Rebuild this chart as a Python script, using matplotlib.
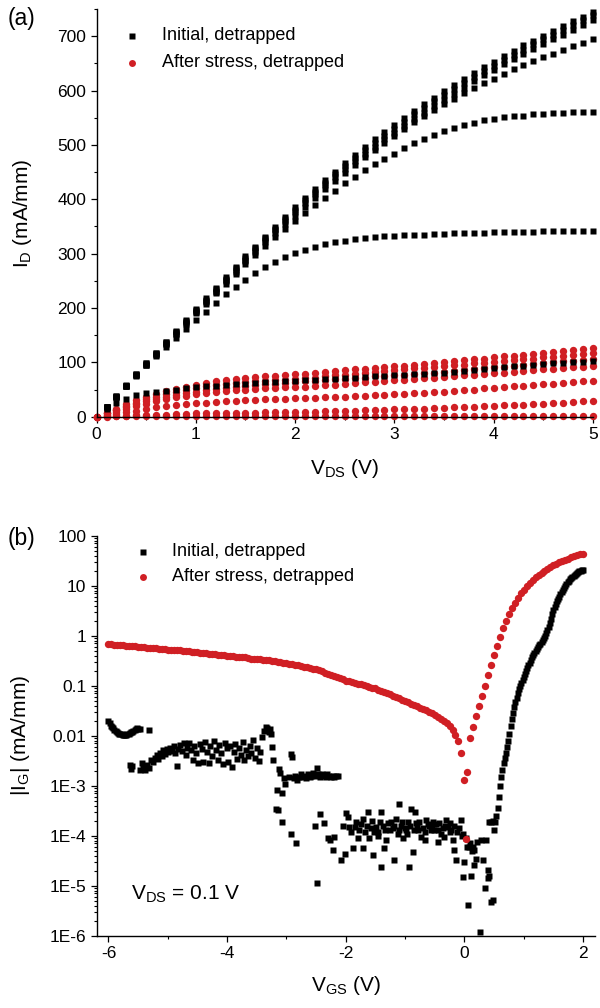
import numpy as np
import matplotlib.pyplot as plt
from matplotlib.ticker import MultipleLocator, FixedLocator, FixedFormatter, LogLocator, NullFormatter

plt.rcParams['font.family'] = ['Liberation Sans', 'DejaVu Sans']
plt.rcParams['mathtext.fontset'] = 'custom'
plt.rcParams['mathtext.rm'] = 'Liberation Sans'
plt.rcParams['mathtext.it'] = 'Liberation Sans:italic'
plt.rcParams['axes.unicode_minus'] = False

RED = '#d01f24'

# ---------------- (a) output characteristics ----------------
vds = [0.1, 0.2, 0.3, 0.4, 0.5, 0.6, 0.7, 0.8, 0.9, 1.0,
       1.1, 1.2, 1.3, 1.4, 1.5, 1.6, 1.7, 1.8, 1.9, 2.0,
       2.1, 2.2, 2.3, 2.4, 2.5, 2.6, 2.7, 2.8, 2.9, 3.0,
       3.1, 3.2, 3.3, 3.4, 3.5, 3.6, 3.7, 3.8, 3.9, 4.0,
       4.1, 4.2, 4.3, 4.4, 4.5, 4.6, 4.7, 4.8, 4.9, 5.0]
vds_red = [0.0] + vds

# initial, detrapped (mA/mm), one list per gate step
id_init_1 = [18, 38, 58, 79, 99, 118, 138, 158, 178, 198, 218, 237, 257, 276, 295, 313, 331, 349, 367, 385,
             402, 419, 435, 451, 466, 481, 496, 510, 524, 537, 550, 563, 575, 587, 599, 610, 621, 632, 643, 653,
             663, 673, 683, 692, 701, 710, 719, 728, 736, 745]
id_init_2 = [18, 37, 57, 78, 98, 117, 137, 156, 176, 196, 215, 234, 254, 273, 292, 310, 328, 346, 363, 381,
             398, 414, 430, 446, 461, 476, 490, 504, 517, 530, 543, 556, 568, 580, 592, 603, 614, 625, 636, 646,
             656, 666, 675, 685, 694, 703, 712, 721, 729, 738]
id_init_3 = [18, 37, 57, 77, 97, 116, 135, 155, 174, 194, 213, 232, 251, 270, 289, 307, 325, 343, 360, 377,
             394, 410, 426, 441, 456, 470, 484, 497, 510, 522, 535, 547, 559, 571, 583, 594, 605, 617, 628, 638,
             648, 658, 667, 677, 686, 695, 703, 712, 720, 729]
id_init_4 = [17, 37, 56, 76, 96, 115, 134, 153, 172, 192, 211, 230, 249, 267, 286, 303, 321, 338, 354, 370,
             386, 402, 418, 433, 448, 463, 477, 491, 504, 517, 530, 542, 553, 564, 575, 585, 595, 604, 613, 622,
             631, 639, 647, 654, 661, 668, 675, 682, 688, 695]
id_init_5 = [17, 36, 56, 75, 95, 114, 133, 152, 171, 190, 208, 227, 245, 262, 280, 297, 314, 330, 345, 360,
             374, 389, 403, 416, 429, 441, 453, 464, 474, 484, 494, 503, 511, 518, 525, 531, 536, 541, 545, 548,
             551, 553, 554, 556, 557, 558, 559, 560, 560, 561]
id_init_6 = [18, 38, 57, 76, 95, 112, 128, 145, 161, 177, 193, 210, 226, 239, 252, 264, 275, 284, 293, 301,
             307, 313, 318, 321, 324, 327, 329, 330, 332, 333, 334, 335, 335, 336, 336, 337, 337, 338, 338, 339,
             339, 340, 340, 340, 341, 341, 341, 342, 342, 342]
id_init_7 = [14, 25, 33, 40, 43, 46, 48, 50, 52, 54, 56, 57, 58, 60, 61, 62, 63, 64, 65, 66,
             67, 68, 69, 70, 71, 72, 73, 74, 75, 76, 77, 78, 79, 80, 81, 83, 84, 86, 88, 90,
             91, 93, 94, 96, 97, 98, 99, 100, 101, 103]

# after stress, detrapped (mA/mm), starting at VDS = 0
id_str_1 = [0, 7, 15, 23, 30, 36, 42, 47, 51, 55, 59, 62, 65, 67, 69, 71, 73, 74, 75, 77, 78,
            79, 81, 82, 84, 85, 87, 88, 90, 91, 93, 94, 96, 97, 99, 101, 102, 104, 106, 107, 109,
            111, 112, 114, 116, 118, 119, 121, 123, 124, 126]
id_str_2 = [0, 6, 13, 20, 26, 32, 37, 42, 46, 50, 53, 56, 58, 60, 62, 63, 65, 66, 67, 68, 69,
            71, 72, 74, 76, 77, 79, 81, 82, 84, 86, 87, 89, 90, 92, 93, 95, 96, 98, 99, 101,
            103, 104, 106, 107, 109, 110, 112, 114, 115, 117]
id_str_3 = [0, 6, 12, 18, 23, 28, 32, 36, 40, 43, 46, 49, 51, 53, 55, 57, 58, 60, 61, 62, 64,
            65, 66, 68, 69, 70, 71, 72, 74, 75, 76, 77, 78, 80, 81, 82, 84, 85, 87, 89, 91,
            92, 94, 96, 97, 99, 100, 102, 103, 105, 106]
id_str_4 = [0, 4, 9, 14, 19, 24, 28, 32, 36, 39, 42, 44, 46, 48, 49, 50, 51, 52, 53, 54, 54,
            55, 57, 58, 59, 60, 62, 63, 64, 65, 67, 68, 69, 71, 72, 73, 75, 76, 77, 79, 80,
            81, 83, 84, 85, 87, 88, 89, 91, 92, 94]
id_str_5 = [0, 2, 5, 8, 11, 14, 17, 19, 21, 23, 25, 26, 27, 28, 29, 30, 31, 32, 32, 33, 34,
            34, 35, 36, 37, 37, 38, 39, 40, 40, 41, 42, 43, 44, 45, 46, 48, 49, 50, 52, 53,
            54, 56, 57, 58, 60, 61, 62, 63, 65, 66]
id_str_6 = [0, 1, 2, 2, 3, 3, 4, 4, 5, 5, 6, 6, 6, 7, 7, 7, 7, 8, 8, 8, 9,
            9, 9, 10, 10, 11, 11, 12, 12, 13, 14, 14, 15, 15, 16, 16, 17, 18, 18, 19, 20,
            21, 21, 22, 23, 24, 25, 26, 27, 28, 29]
id_str_7 = [0, 0, 1, 1, 1, 1, 1, 1, 1, 1, 1, 1, 1, 1, 1, 1, 1, 1, 1, 1, 1,
            1, 1, 1, 1, 1, 1, 1, 1, 1, 1, 1, 1, 1, 2, 2, 2, 2, 2, 2, 2,
            2, 2, 2, 2, 2, 2, 2, 2, 2, 2]

# ---------------- (b) gate leakage at VDS = 0.1 V ----------------
# after stress: VGS sweep -6 .. 2 V in 0.05 V steps
vgs_str = np.round(np.arange(-6.0, 2.001, 0.05), 2)
ig_str = [0.68, 0.67, 0.66, 0.65, 0.65, 0.64, 0.63, 0.62, 0.62, 0.61, 0.60, 0.59, 0.59, 0.58, 0.57, 0.57,
          0.56, 0.55, 0.55, 0.54, 0.53,
          0.53, 0.52, 0.52, 0.51, 0.50, 0.50, 0.49, 0.48, 0.48, 0.47, 0.46, 0.46, 0.45, 0.44, 0.44, 0.43,
          0.42, 0.42, 0.41, 0.40,
          0.39, 0.39, 0.38, 0.38, 0.37, 0.37, 0.36, 0.35, 0.35, 0.34, 0.34, 0.33, 0.33, 0.32, 0.31, 0.31,
          0.30, 0.30, 0.29, 0.28,
          0.275, 0.27, 0.26, 0.255, 0.25, 0.24, 0.235, 0.23, 0.22, 0.215, 0.21, 0.20,
          0.18, 0.175, 0.165, 0.16, 0.15, 0.145, 0.135, 0.126,
          0.122, 0.118, 0.114, 0.110, 0.106, 0.102, 0.099, 0.095, 0.092, 0.089,
          0.084, 0.080, 0.075, 0.071, 0.067, 0.063, 0.060, 0.056, 0.053, 0.050,
          0.047, 0.044, 0.041, 0.039, 0.036, 0.034, 0.032, 0.030, 0.028, 0.026,
          0.024, 0.022, 0.020, 0.018, 0.0155, 0.013, 0.0105, 0.0078, 0.0045, 0.0013,
          0.0019, 0.009, 0.015, 0.025, 0.040, 0.063, 0.10, 0.166, 0.26, 0.42,
          0.63, 0.95, 1.4, 2.0, 2.7, 3.6, 4.6, 5.8, 7.0, 8.3,
          9.9, 11.5, 13.1, 14.8, 16.5, 18.2, 20.0, 21.9, 23.8, 25.7,
          27.6, 29.5, 31.3, 33.0, 35.0, 37.0, 38.9, 40.7, 42.4, 44.0]
ig_str_extra = [(0.03, 8.5e-5)]

# initial: start of sweep (-6 .. -5.5 V, 0.02 V steps)
vgs_init_start = np.round(np.arange(-6.0, -5.499, 0.02), 2)
ig_init_start = [0.020, 0.018, 0.016, 0.015, 0.014, 0.013, 0.0125, 0.012, 0.0115, 0.011, 0.0108, 0.0106,
                 0.0105, 0.0104, 0.0104, 0.0105, 0.0107, 0.011, 0.0113, 0.0117, 0.012, 0.0125, 0.013,
                 0.0135, 0.014, 0.0138]

# initial: forward turn-on (0.5 .. 2 V, 0.02 V steps)
vgs_init_on = np.round(np.arange(0.5, 2.001, 0.02), 2)
ig_init_on = [1.3e-4, 1.9e-4, 2.5e-4, 3.6e-4, 6e-4, 1.0e-3, 1.5e-3, 2.1e-3, 2.8e-3, 3.6e-3,
              4.5e-3, 6e-3, 8e-3, 0.011, 0.016, 0.022, 0.029, 0.038, 0.047, 0.058,
              0.071, 0.085, 0.098, 0.113, 0.13, 0.15, 0.17, 0.20, 0.23, 0.26,
              0.29, 0.33, 0.37, 0.41, 0.45, 0.49, 0.54, 0.59, 0.64, 0.69,
              0.75, 0.82, 0.90, 1.0, 1.12, 1.28, 1.5, 1.8, 2.2, 2.7,
              3.2, 3.8, 4.4, 4.9, 5.4, 6.0, 6.7, 7.5, 8.3, 9.2,
              10.0, 10.9, 11.8, 12.7, 13.6, 14.4, 15.2, 16.0, 16.7, 17.4,
              18.1, 18.7, 19.3, 19.9, 20.5, 21.0]

# initial: noisy reverse-bias leakage, (VGS, |IG|) pairs
ig_init_noise_hi = [
    (-5.46, 0.0135), (-5.32, 0.0128),
    (-5.64, 0.0026), (-5.62, 0.0022), (-5.60, 0.0025), (-5.47, 0.0021), (-5.44, 0.0029), (-5.41, 0.0024),
    (-5.38, 0.0021), (-5.35, 0.0026), (-5.31, 0.0023), (-5.28, 0.0033), (-5.25, 0.0030), (-5.22, 0.0036),
    (-5.19, 0.0041), (-5.16, 0.0034), (-5.13, 0.0045), (-5.10, 0.0039), (-5.08, 0.0051), (-5.05, 0.0044),
    (-5.02, 0.0055), (-4.99, 0.0047), (-4.96, 0.0058), (-4.93, 0.0050), (-4.90, 0.0062), (-4.87, 0.0045),
    (-4.84, 0.0025), (-4.82, 0.0054), (-4.79, 0.0066), (-4.76, 0.0049), (-4.73, 0.0070), (-4.70, 0.0042),
    (-4.67, 0.0058), (-4.64, 0.0073), (-4.61, 0.0051), (-4.58, 0.0032), (-4.55, 0.0062), (-4.52, 0.0045),
    (-4.49, 0.0029), (-4.46, 0.0068), (-4.43, 0.0055), (-4.40, 0.0030), (-4.37, 0.0075), (-4.34, 0.0048),
    (-4.31, 0.0028), (-4.28, 0.0063), (-4.25, 0.0039), (-4.22, 0.0080), (-4.19, 0.0052), (-4.16, 0.0032),
    (-4.13, 0.0066), (-4.10, 0.0045), (-4.07, 0.0027), (-4.04, 0.0072), (-4.01, 0.0056), (-3.98, 0.0030),
    (-3.95, 0.0062), (-3.92, 0.0024), (-3.89, 0.0047), (-3.86, 0.0068), (-3.83, 0.0035), (-3.80, 0.0058),
    (-3.77, 0.0042), (-3.74, 0.0075), (-3.71, 0.0033), (-3.68, 0.0052), (-3.65, 0.0039), (-3.62, 0.0061),
    (-3.59, 0.0045), (-3.56, 0.0083), (-3.53, 0.0036), (-3.50, 0.0057), (-3.47, 0.0031), (-3.44, 0.0048),
    (-3.41, 0.0095), (-3.38, 0.0125), (-3.35, 0.0150), (-3.33, 0.0140), (-3.30, 0.0120), (-3.28, 0.0135),
    (-3.26, 0.0110), (-3.24, 0.0060), (-3.22, 0.0033),
    (-3.18, 3.5e-4), (-3.16, 8.3e-4), (-3.13, 0.0022), (-3.10, 0.0018), (-3.07, 7e-4), (-3.04, 0.0014),
    (-3.02, 0.0011), (-2.96, 0.0015), (-2.93, 0.0044), (-2.90, 0.0038),
    (-2.88, 1.4e-3), (-2.85, 1.6e-3), (-2.82, 1.3e-3), (-2.79, 1.5e-3), (-2.76, 1.7e-3), (-2.73, 1.5e-3),
    (-2.70, 1.6e-3), (-2.67, 1.4e-3), (-2.64, 1.7e-3), (-2.61, 1.5e-3), (-2.58, 1.6e-3), (-2.55, 1.8e-3),
    (-2.52, 1.6e-3), (-2.49, 2.3e-3), (-2.46, 1.7e-3), (-2.43, 1.5e-3), (-2.40, 1.7e-3), (-2.37, 1.6e-3),
    (-2.34, 1.5e-3), (-2.31, 1.7e-3), (-2.28, 1.6e-3), (-2.25, 1.5e-3), (-2.22, 1.6e-3), (-2.19, 1.5e-3),
    (-2.16, 1.6e-3), (-2.13, 1.6e-3),
]
ig_init_noise_lo = [
    (-3.14, 3.2e-4), (-3.08, 1.9e-4), (-2.92, 1.1e-4), (-2.84, 7e-5),
    (-2.52, 1.6e-4), (-2.43, 2.7e-4), (-2.36, 1.8e-4), (-2.30, 8.9e-5), (-2.48, 1.15e-5), (-2.27, 8.2e-5),
    (-2.22, 5.2e-5), (-2.19, 9.3e-5), (-2.08, 3.3e-5), (-2.02, 4.3e-5), (-2.05, 1.6e-4), (-1.99, 2.8e-4),
    (-1.97, 2.4e-4), (-1.91, 1.2e-4), (-1.88, 5.6e-5), (-1.85, 1.5e-4), (-1.83, 1.9e-4), (-1.80, 8.9e-5),
    (-1.71, 2.2e-4), (-1.71, 5.6e-5), (-1.63, 3.0e-4), (-1.60, 8.9e-5), (-1.54, 4.1e-5), (-1.52, 1.2e-4),
    (-1.46, 1.0e-4), (-1.43, 1.9e-4), (-1.40, 3.0e-4), (-1.40, 2.4e-5), (-1.35, 5.6e-5), (-1.32, 8.2e-5),
    (-1.26, 1.3e-4), (-1.24, 1.9e-4), (-1.18, 3.3e-5), (-1.15, 2.2e-4), (-1.12, 1.1e-4), (-1.10, 4.4e-4),
    (-1.07, 1.6e-4), (-1.04, 8.9e-5), (-0.98, 1.3e-4), (-0.95, 1.9e-4), (-0.93, 2.4e-5), (-0.90, 3.5e-4),
    (-0.87, 4.8e-5), (-0.84, 3.0e-4), (-0.81, 1.8e-4), (-0.79, 1.3e-4), (-0.73, 9.6e-5), (-0.67, 8.2e-5),
    (-0.65, 2.1e-4), (-0.59, 1.6e-4), (-0.53, 1.9e-4), (-0.51, 1.3e-4), (-0.45, 7.6e-5), (-0.39, 1.1e-4),
    (-0.34, 9.6e-5), (-0.31, 2.1e-4), (-0.25, 1.2e-4), (-0.20, 8.2e-5), (-0.17, 5.2e-5), (-0.14, 3.3e-5),
    (-1.95, 1.5e-4), (-1.78, 1.3e-4), (-1.75, 1.7e-4), (-1.68, 1.2e-4), (-1.65, 1.6e-4), (-1.58, 1.4e-4),
    (-1.55, 2.0e-4), (-1.49, 1.5e-4), (-1.45, 1.2e-4), (-1.38, 1.6e-4), (-1.33, 1.3e-4), (-1.29, 1.8e-4),
    (-1.21, 1.4e-4), (-1.18, 1.6e-4), (-1.10, 1.3e-4), (-1.05, 1.9e-4), (-1.00, 1.4e-4), (-0.96, 1.1e-4),
    (-0.92, 1.6e-4), (-0.85, 1.3e-4), (-0.80, 1.6e-4), (-0.76, 1.9e-4), (-0.70, 1.4e-4), (-0.66, 1.2e-4),
    (-0.62, 1.7e-4), (-0.57, 1.3e-4), (-0.55, 1.5e-4), (-0.48, 1.7e-4), (-0.45, 1.3e-4), (-0.42, 1.8e-4),
    (-0.36, 1.4e-4), (-0.33, 1.6e-4), (-0.28, 1.5e-4), (-0.24, 1.8e-4), (-0.22, 1.3e-4), (-0.18, 1.6e-4),
    (-0.12, 1.2e-4), (-0.09, 1.4e-4), (-0.04, 1.0e-4),
    (-0.06, 2.1e-4), (-0.03, 1.1e-4), (-0.03, 1.5e-5), (0.00, 3.0e-5), (0.02, 9e-5), (0.04, 6e-5),
    (0.06, 4.1e-6), (0.08, 6.0e-5), (0.10, 7e-5), (0.11, 1.6e-5), (0.13, 5e-5), (0.14, 6.0e-5),
    (0.17, 5.2e-5), (0.17, 2.6e-5), (0.20, 3.5e-5), (0.22, 7.6e-5), (0.27, 1.2e-6), (0.28, 8.2e-5),
    (0.31, 3.3e-5), (0.34, 8.9e-6), (0.36, 8.2e-5), (0.39, 2.1e-5), (0.40, 1.4e-5), (0.42, 1.6e-5),
    (0.45, 4.8e-6), (0.48, 5.2e-6), (0.42, 1.9e-4), (0.45, 1.9e-4), (0.48, 2.0e-4),
]

fig = plt.figure(figsize=(6, 10.08), dpi=100)

# ---- panel (a)
ax1 = fig.add_axes([0.161, 0.5866, 0.8272, 0.4045])
for curve in [id_str_1, id_str_2, id_str_3, id_str_4, id_str_5, id_str_6, id_str_7]:
    ax1.plot(vds_red, curve, 'o', color=RED, ms=5.3, mec='none', clip_on=False, zorder=2)
for curve in [id_init_1, id_init_2, id_init_3, id_init_4, id_init_5, id_init_6, id_init_7]:
    ax1.plot(vds, curve, 's', color='black', ms=4.5, mec='none', clip_on=False, zorder=3)

ax1.set_xlim(0, 5)
ax1.set_ylim(0, 750)
ax1.xaxis.set_major_locator(MultipleLocator(1))
ax1.xaxis.set_minor_locator(MultipleLocator(0.5))
ax1.yaxis.set_major_locator(MultipleLocator(100))
ax1.yaxis.set_minor_locator(MultipleLocator(50))
ax1.set_xlabel(r'V$_\mathrm{DS}$ (V)', fontsize=15)
ax1.set_ylabel(r'I$_\mathrm{D}$ (mA/mm)', fontsize=15)
ax1.xaxis.set_label_coords(0.5, -0.100)
ax1.yaxis.set_label_coords(-0.126, 0.5)

ax1.plot([0.072], [0.9345], 's', color='black', ms=4.5, mec='none', transform=ax1.transAxes)
ax1.plot([0.072], [0.868], 'o', color=RED, ms=5.0, mec='none', transform=ax1.transAxes)
ax1.text(0.1316, 0.9345, 'Initial, detrapped', transform=ax1.transAxes, fontsize=13, va='center')
ax1.text(0.1316, 0.868, 'After stress, detrapped', transform=ax1.transAxes, fontsize=13, va='center')

# ---- panel (b)
ax2 = fig.add_axes([0.161, 0.0717, 0.8305, 0.3968])
nh_v, nh_i = zip(*ig_init_noise_hi)
nl_v, nl_i = zip(*ig_init_noise_lo)
for v, i in [(vgs_init_start, ig_init_start), (nh_v, nh_i), (nl_v, nl_i), (vgs_init_on, ig_init_on)]:
    ax2.plot(v, i, 's', color='black', ms=4.2, mec='none', clip_on=False, zorder=2)
ex_v, ex_i = zip(*ig_str_extra)
ax2.plot(vgs_str, ig_str, 'o', color=RED, ms=5.3, mec='none', clip_on=False, zorder=3)
ax2.plot(ex_v, ex_i, 'o', color=RED, ms=5.3, mec='none', clip_on=False, zorder=3)

ax2.set_yscale('log')
ax2.set_xlim(-6.2, 2.2)
ax2.set_ylim(1e-6, 100)
ax2.xaxis.set_major_locator(MultipleLocator(2))
ax2.xaxis.set_minor_locator(MultipleLocator(1))
decades = [1e-6, 1e-5, 1e-4, 1e-3, 1e-2, 1e-1, 1, 10, 100]
decade_labels = ['1E-6', '1E-5', '1E-4', '1E-3', '0.01', '0.1', '1', '10', '100']
ax2.yaxis.set_major_locator(FixedLocator(decades))
ax2.yaxis.set_major_formatter(FixedFormatter(decade_labels))
ax2.yaxis.set_minor_locator(LogLocator(base=10, subs=np.arange(2, 10), numticks=20))
ax2.yaxis.set_minor_formatter(NullFormatter())
ax2.set_xlabel(r'V$_\mathrm{GS}$ (V)', fontsize=15)
ax2.set_ylabel(r'|I$_\mathrm{G}$| (mA/mm)', fontsize=15)
ax2.xaxis.set_label_coords(0.5, -0.095)
ax2.yaxis.set_label_coords(-0.13, 0.5)
ax2.text(-5.62, 6.8e-6, r'V$_\mathrm{DS}$ = 0.1 V', fontsize=15, va='center')

ax2.plot([0.0935], [0.96], 's', color='black', ms=4.2, mec='none', transform=ax2.transAxes)
ax2.plot([0.0935], [0.8975], 'o', color=RED, ms=5.0, mec='none', transform=ax2.transAxes)
ax2.text(0.152, 0.96, 'Initial, detrapped', transform=ax2.transAxes, fontsize=13, va='center')
ax2.text(0.152, 0.8975, 'After stress, detrapped', transform=ax2.transAxes, fontsize=13, va='center')

for ax in (ax1, ax2):
    ax.spines['top'].set_visible(False)
    ax.spines['right'].set_visible(False)
    ax.spines['left'].set_linewidth(1.0)
    ax.spines['bottom'].set_linewidth(1.0)
    ax.tick_params(which='major', direction='out', length=4, width=0.9, labelsize=12.5)
    ax.tick_params(which='minor', direction='out', length=2.3, width=0.8)

fig.text(8 / 600, 1 - 18 / 1008, '(a)', fontsize=16.5, va='center', ha='left')
fig.text(8 / 600, 1 - 539 / 1008, '(b)', fontsize=16.5, va='center', ha='left')

fig.savefig('out.png', dpi=100)
